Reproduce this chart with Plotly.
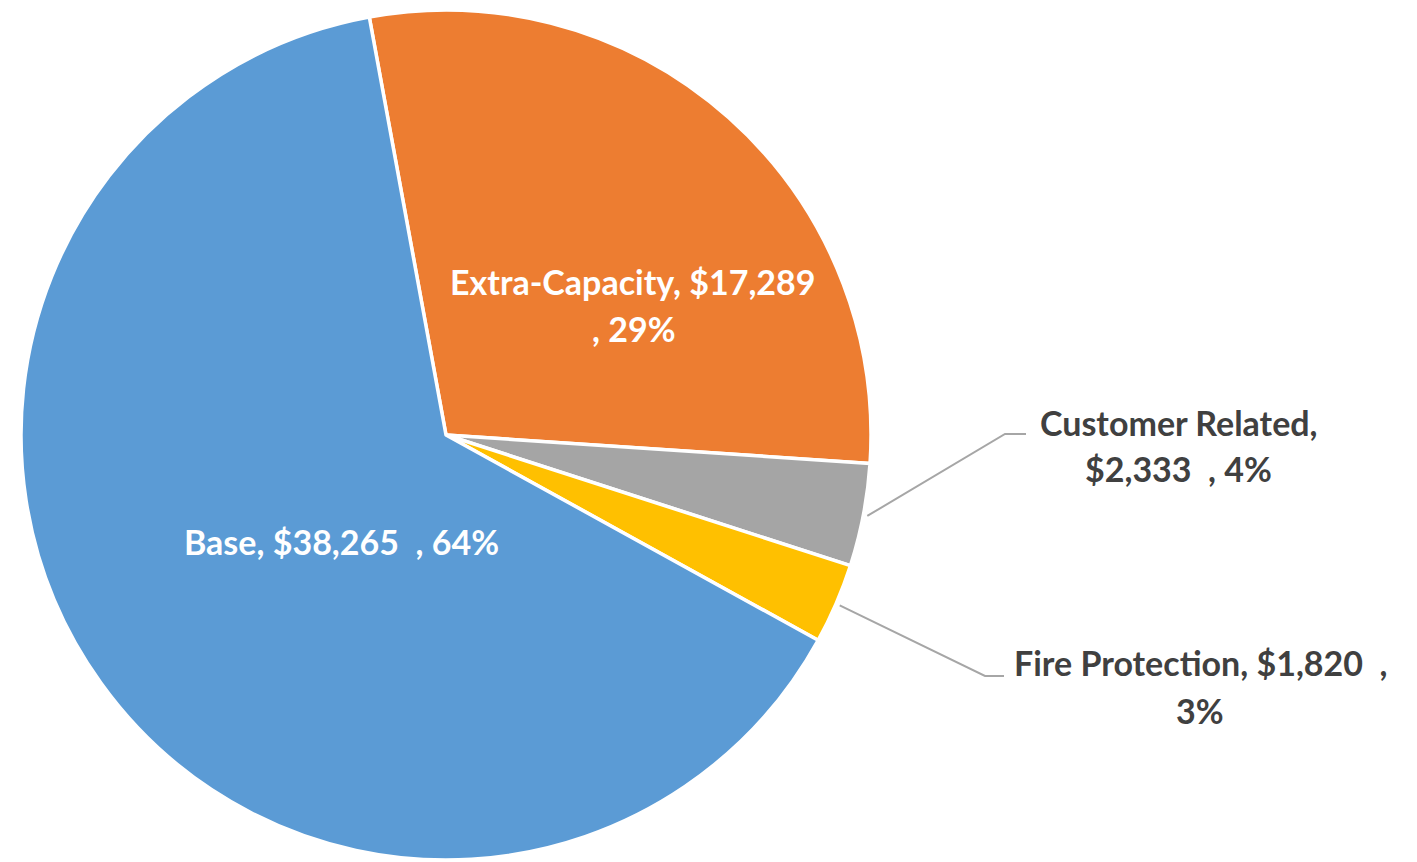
import math
import plotly.graph_objects as go

# Cost allocation by component (slices drawn clockwise from the top)
categories = ["Extra-Capacity", "Customer Related", "Fire Protection", "Base"]
values = [17289, 2333, 1820, 38265]
colors = ["#ED7D31", "#A5A5A5", "#FFC000", "#5B9BD5"]

# Where each label wraps: index of the part after which the line breaks
# (parts are "Name,", "$value", ",", "pct%"); None keeps the label on one line
label_breaks = [1, 0, 2, None]

W, H = 1417, 862
CX, CY, R = 446, 435, 425          # pie centre and radius in pixels
ROTATION = -10.4
FONT = "Lato, 'Open Sans', sans-serif"
FONT_SIZE = 34

# Label anchors (pixel centres of each text line) and leader-line elbows
label_pos = {
    "Extra-Capacity": {"lines": [(633, 281), (634, 328)], "color": "white"},
    "Customer Related": {"lines": [(1179, 422), (1178, 468)], "color": "#404040",
                         "elbow": (1005, 434), "end": (1026, 434)},
    "Fire Protection": {"lines": [(1201, 662), (1200, 710)], "color": "#404040",
                        "elbow": (985, 676), "end": (1004, 676)},
    "Base": {"lines": [(341, 541)], "color": "white"},
}

total = sum(values)


def px_to_paper(x, y):
    return x / W, 1 - y / H


def label_parts(name, value):
    pct = round(value / total * 100)
    return [f"{name},", f"${value:,}\u00a0", ",", f"{pct}%"]


fig = go.Figure(
    go.Pie(
        labels=categories,
        values=values,
        sort=False,
        direction="clockwise",
        rotation=ROTATION,
        marker=dict(colors=colors, line=dict(color="white", width=3.5)),
        textinfo="none",
        hoverinfo="label+value+percent",
        showlegend=False,
        domain=dict(
            x=[(CX - R) / W, (CX + R) / W],
            y=[1 - (CY + R) / H, 1 - (CY - R) / H],
        ),
    )
)

annotations = []
shapes = []
cum = 0
for name, value, brk in zip(categories, values, label_breaks):
    parts = label_parts(name, value)
    if brk is None:
        lines = [" ".join(parts)]
    else:
        lines = [" ".join(parts[: brk + 1]).strip(), " ".join(parts[brk + 1:]).strip()]
    cfg = label_pos[name]
    for text, (lx, ly) in zip(lines, cfg["lines"]):
        px, py = px_to_paper(lx, ly)
        annotations.append(dict(
            x=px, y=py, xref="paper", yref="paper", text=text,
            showarrow=False, xanchor="center", yanchor="middle",
            font=dict(family=FONT, size=FONT_SIZE, color=cfg["color"], weight="bold"),
        ))

    # leader line from the slice's mid-angle on the rim to its label
    mid = math.radians(ROTATION + 360 * (cum + value / 2) / total)
    cum += value
    if "elbow" in cfg:
        sx = CX + (R + 4) * math.sin(mid)
        sy = CY - (R + 4) * math.cos(mid)
        pts = [px_to_paper(sx, sy), px_to_paper(*cfg["elbow"]), px_to_paper(*cfg["end"])]
        path = "M {} {} L {} {} L {} {}".format(*[c for p in pts for c in p])
        shapes.append(dict(type="path", path=path, xref="paper", yref="paper",
                           line=dict(color="#A6A6A6", width=2)))

fig.update_layout(
    width=W, height=H,
    margin=dict(l=0, r=0, t=0, b=0),
    paper_bgcolor="white",
    plot_bgcolor="white",
    annotations=annotations,
    shapes=shapes,
)

fig.write_html("out.html")
